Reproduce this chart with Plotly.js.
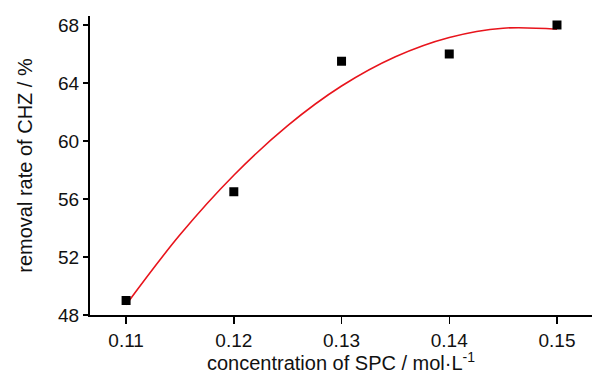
<!DOCTYPE html>
<html>
<head>
<meta charset="utf-8">
<script src="https://cdn.plot.ly/plotly-3.0.1.min.js"></script>
<style>html,body{margin:0;padding:0;background:#fff;}#chart{width:599px;height:374px;}</style>
</head>
<body>
<div id="chart"></div>
<script>
// measured points
var concentration = [0.11, 0.12, 0.13, 0.14, 0.15];
var removalRate = [49, 56.5, 65.5, 66, 68];
// fitted curve
var fitX = [0.11, 0.115, 0.12, 0.125, 0.13, 0.135, 0.14, 0.145, 0.15];
var fitY = [48.71, 53.53, 57.64, 61.06, 63.79, 65.81, 67.14, 67.78, 67.71];
var xTicks = [0.11, 0.12, 0.13, 0.14, 0.15];
var xTickText = ['0.11', '0.12', '0.13', '0.14', '0.15'];
var yTicks = [48, 52, 56, 60, 64, 68];

var FONT = '"Liberation Sans", Arial, sans-serif';

var traces = [
  {x: fitX, y: fitY, type: 'scatter', mode: 'lines',
   line: {color: '#e8141c', width: 1.6, shape: 'spline', smoothing: 1}, hoverinfo: 'skip'},
  {x: concentration, y: removalRate, type: 'scatter', mode: 'markers',
   marker: {symbol: 'square', size: 9, color: '#000'}}
];

var layout = {
  width: 599, height: 374,
  margin: {l: 90, r: 7, t: 16, b: 59},
  paper_bgcolor: '#fff', plot_bgcolor: '#fff',
  showlegend: false,
  font: {family: FONT, size: 19, color: '#111'},
  xaxis: {
    range: [0.10665, 0.15325], tickvals: xTicks, ticktext: xTickText,
    showgrid: false, zeroline: false, showline: true, linecolor: '#000', linewidth: 2,
    ticks: 'outside', ticklen: 7, tickwidth: 1.5, tickcolor: '#000',
    tickfont: {family: FONT, size: 19, color: '#111'},
    title: {text: 'concentration of SPC / mol·L<sup>-1</sup>', font: {family: FONT, size: 20, color: '#111'}, standoff: 4}
  },
  yaxis: {
    range: [48, 68.62], tickvals: yTicks,
    showgrid: false, zeroline: false, showline: true, linecolor: '#000', linewidth: 2,
    ticks: 'outside', ticklen: 5, tickwidth: 1.5, tickcolor: '#000',
    tickfont: {family: FONT, size: 19, color: '#111'},
    title: {text: 'removal rate of CHZ / %', font: {family: FONT, size: 20, color: '#111'}, standoff: 20}
  }
};

Plotly.newPlot('chart', traces, layout, {displayModeBar: false, staticPlot: true});
</script>
</body>
</html>
